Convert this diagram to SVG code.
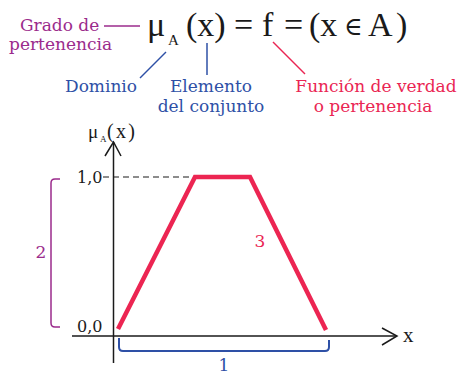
<svg xmlns="http://www.w3.org/2000/svg" width="461" height="375" viewBox="0 0 461 375">
<style>
.lbl{font-family:"DejaVu Serif","Liberation Serif",serif;font-size:17px}
.math{font-family:"Liberation Serif","Times New Roman",serif;fill:#1a1a1a}
.purple{fill:#9b2b8c}
.blue{fill:#2e50a6}
.red{fill:#ea2553}
.num{font-family:"DejaVu Serif","Liberation Serif",serif;font-size:16px;fill:#1a1a1a}
.axis{stroke:#1a1a1a;stroke-width:1.5;fill:none}
</style>
<rect width="461" height="375" fill="#ffffff"/>
<g id="formula" class="math">
  <text x="147" y="36" font-size="34">μ</text>
  <text x="168" y="45" font-size="15">A</text>
  <text x="186" y="36" font-size="34">(x)</text>
  <text x="234" y="36" font-size="34">=</text>
  <text x="262" y="36" font-size="34">f</text>
  <text x="284" y="36" font-size="34">=</text>
  <text x="309" y="36" font-size="34">(x</text>
  <text x="344" y="35" font-size="25" font-family="DejaVu Serif, serif">∈</text>
  <text x="368" y="36" font-size="34">A</text>
  <text x="396" y="36" font-size="34">)</text>
</g>
<g id="grado">
  <text class="lbl purple" x="20" y="31">Grado de</text>
  <text class="lbl purple" x="9" y="50">pertenencia</text>
</g>
<g id="dominio">
  <text class="lbl blue" x="65" y="92">Dominio</text>
</g>
<g id="elemento">
  <text class="lbl blue" x="211" y="92" text-anchor="middle">Elemento</text>
  <text class="lbl blue" x="211" y="112" text-anchor="middle">del conjunto</text>
</g>
<g id="funcion">
  <text class="lbl red" x="376" y="92" text-anchor="middle">Función de verdad</text>
  <text class="lbl red" x="373" y="112" text-anchor="middle">o pertenencia</text>
</g>
<g id="connectors" fill="none">
  <line x1="104" y1="26" x2="140" y2="26" stroke="#9b2b8c" stroke-width="1.5"/>
  <line x1="140" y1="78" x2="166" y2="52" stroke="#2e50a6" stroke-width="1.5"/>
  <line x1="207" y1="43" x2="207" y2="75" stroke="#2e50a6" stroke-width="1.5"/>
  <line x1="273" y1="42" x2="305" y2="74" stroke="#ea2553" stroke-width="1.5"/>
</g>
<g id="axes">
  <line class="axis" x1="113.5" y1="142" x2="113.5" y2="363"/>
  <polyline class="axis" points="105,156 113.5,142 121,156"/>
  <line class="axis" x1="72" y1="336" x2="397" y2="336"/>
  <polyline class="axis" points="382,328 397,336 382,345"/>
  <g class="math">
    <text x="88" y="138" font-size="19">μ</text>
    <text x="100" y="142" font-size="9">A</text>
    <text x="107" y="138" font-size="20" textLength="28" lengthAdjust="spacing">(x)</text>
    <text x="403" y="342" font-size="21">x</text>
  </g>
  <text class="num" x="77" y="182.5">1,0</text>
  <text class="num" x="77" y="331.5">0,0</text>
  <line x1="103" y1="177" x2="195" y2="177" stroke="#1a1a1a" stroke-width="1.2" stroke-dasharray="6,4"/>
</g>
<g id="membership">
  <polyline points="118,329 195,177 250,177 326,330" fill="none" stroke="#ec2552" stroke-width="4.5" stroke-linejoin="miter"/>
  <text class="lbl red" x="260" y="246.5" font-size="18" text-anchor="middle">3</text>
</g>
<g id="bracket2">
  <path d="M60,179 H55 Q51,179 51,183 V323 Q51,327 55,327 H60" fill="none" stroke="#9b2b8c" stroke-width="1.5"/>
  <text class="lbl purple" x="41" y="258" font-size="16" text-anchor="middle">2</text>
</g>
<g id="bracket1">
  <path d="M119,338 V347 Q119,351 123,351 H325 Q329,351 329,347 V340" fill="none" stroke="#2e50a6" stroke-width="2"/>
  <text class="lbl blue" x="224" y="371" font-size="17" text-anchor="middle">1</text>
</g>
</svg>
